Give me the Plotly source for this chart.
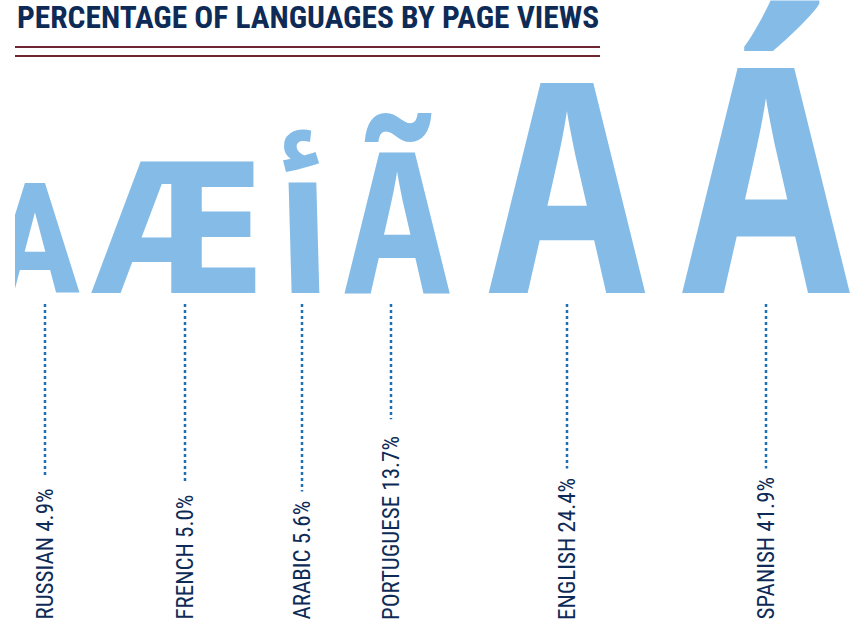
import plotly.graph_objects as go

# ---- data ----
languages = ["RUSSIAN", "FRENCH", "ARABIC", "PORTUGUESE", "ENGLISH", "SPANISH"]
percent = [4.9, 5.0, 5.6, 13.7, 24.4, 41.9]
glyphs = ["А", "Æ", "أ", "Ã", "A", "Á"]

# ---- layout / style (pixels) ----
W, H = 853, 624
x_pos = [45, 185, 302, 391, 567, 766]
glyph_dx = [-10, -6, 2, 6, 0, 0]
glyph_size = [154, 180, 160, 197, 293, 314]
LETTER_FONT = "Open Sans Condensed, Roboto Condensed, DejaVu Sans Condensed, sans-serif"
glyph_font = [LETTER_FONT] * 6
glyph_font[0] = "Roboto Condensed, DejaVu Sans Condensed, sans-serif"
glyph_font[1] = "DejaVu Sans Condensed, sans-serif"
glyph_font[2] = "Noto Sans Arabic, Noto Naskh Arabic, DejaVu Sans, sans-serif"
glyph_weight = [700, 700, 900, 700, 700, 700]
BASELINE = 293
LABEL_BOTTOM = 622
LABEL_SIZE = 23
LEADER_TOP = 304
LEADER_GAP = 12

LIGHT_BLUE = "#85bce7"
DOT_BLUE = "#1f6fb5"
NAVY = "#0e2b57"
MAROON = "#6e2633"

NARROW = "Roboto Condensed, DejaVu Sans Condensed, sans-serif"

# approximate condensed-font widths (per 1000 em) to estimate label length
CW = {c: w for c, w in zip("ABCDEFGHIJKLMNOPQRSTUVWXYZ",
      [667, 667, 722, 722, 667, 611, 778, 722, 278, 500, 667, 556, 833,
       722, 778, 667, 778, 722, 667, 611, 722, 667, 944, 667, 667, 611])}
CW.update({" ": 278, ".": 278, "%": 889})
CW.update({d: 556 for d in "0123456789"})


def text_len(s, size):
    return sum(CW.get(c, 600) for c in s) * 0.82 * size / 1000


labels = [f"{l} {p:.1f}%" for l, p in zip(languages, percent)]

fig = go.Figure()

# big letters
fig.add_trace(go.Scatter(
    x=[x + d for x, d in zip(x_pos, glyph_dx)],
    y=[BASELINE + 0.25 * s for s in glyph_size],
    mode="text",
    text=glyphs,
    textposition="top center",
    textfont=dict(size=glyph_size, color=LIGHT_BLUE, family=glyph_font,
                  weight=glyph_weight),
    cliponaxis=True,
    hoverinfo="skip",
    showlegend=False,
))

# dotted leader lines
for x, lab in zip(x_pos, labels):
    end = LABEL_BOTTOM - text_len(lab, LABEL_SIZE) - LEADER_GAP
    fig.add_trace(go.Scatter(
        x=[x, x], y=[LEADER_TOP, end], mode="lines",
        line=dict(color=DOT_BLUE, width=2.5, dash="dot"),
        hoverinfo="skip", showlegend=False,
    ))

annotations = []
for x, lab in zip(x_pos, labels):
    annotations.append(dict(
        x=x, y=LABEL_BOTTOM, xref="x", yref="y", text=lab, showarrow=False,
        textangle=-90, xanchor="center", yanchor="bottom",
        font=dict(family=NARROW, size=LABEL_SIZE, color=NAVY),
    ))

annotations.append(dict(
    x=15, y=1, xref="x", yref="paper", xanchor="left", yanchor="top",
    yshift=3,
    text="PERCENTAGE OF LANGUAGES BY PAGE VIEWS", showarrow=False,
    font=dict(family=NARROW, size=31.4, color=NAVY, weight="bold"),
))

shapes = [
    dict(type="line", xref="x", yref="y", x0=15, x1=600, y0=yy, y1=yy,
         line=dict(color=MAROON, width=2))
    for yy in (47, 56)
]

fig.update_layout(
    width=W, height=H,
    margin=dict(l=15, r=0, t=0, b=0, pad=0),
    paper_bgcolor="white", plot_bgcolor="white",
    xaxis=dict(range=[15, W], visible=False, fixedrange=True),
    yaxis=dict(range=[H, 0], visible=False, fixedrange=True),
    annotations=annotations,
    shapes=shapes,
    showlegend=False,
)

fig.write_html("out.html", config={"displayModeBar": False, "staticPlot": True},
               post_script="document.body.style.margin='0';")
